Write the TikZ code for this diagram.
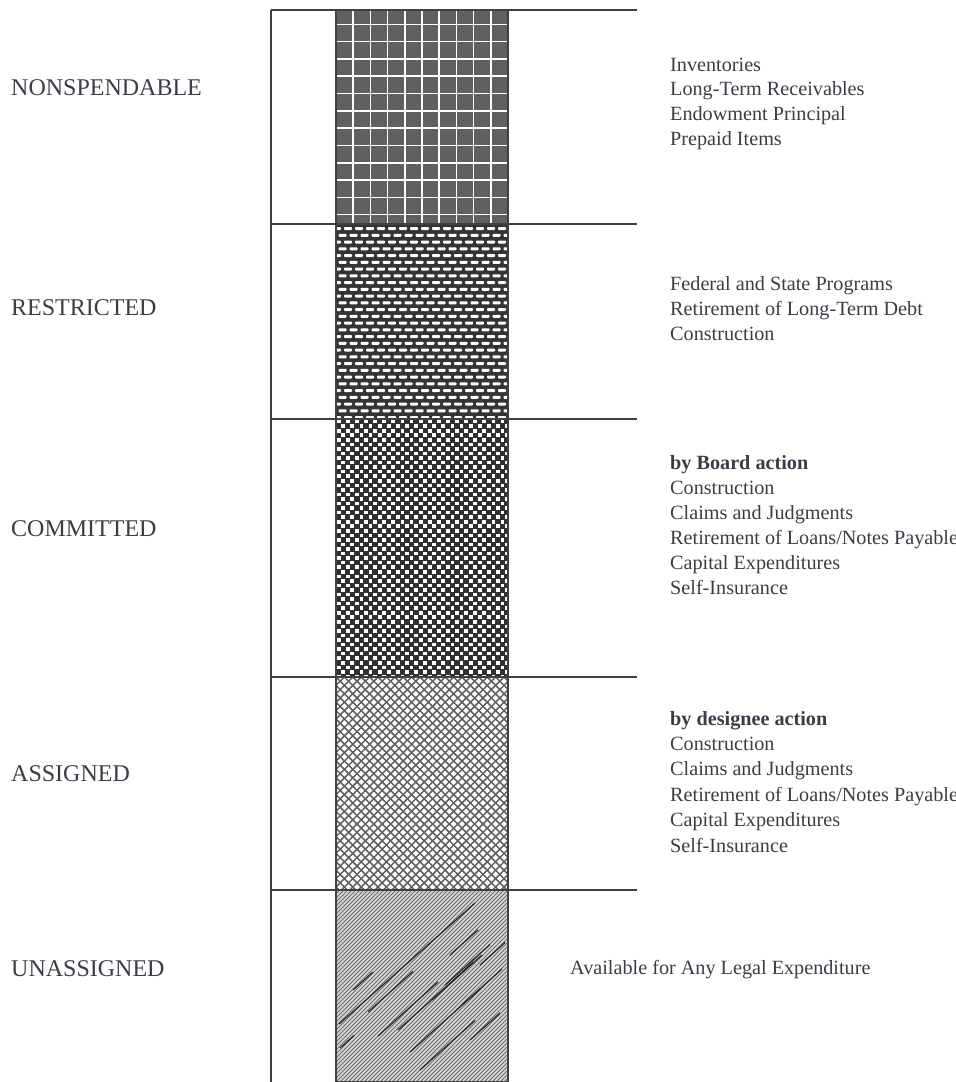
\documentclass[tikz,border=0pt]{standalone}
\usepackage{fontspec}
\setmainfont{Liberation Serif}
\definecolor{inkgray}{RGB}{60,60,72}
\definecolor{gridfill}{RGB}{96,96,96}
\definecolor{brickfill}{RGB}{52,52,52}
\definecolor{checkfill}{RGB}{48,48,48}
\definecolor{hatchline}{RGB}{95,95,95}
\definecolor{stripefill}{RGB}{215,215,215}
\definecolor{stripeline}{RGB}{110,110,110}

\begin{document}
\begin{tikzpicture}[x=1pt,y=-1pt,
		rule line/.style={draw=black!75,line width=1.1pt},
		class label/.style={anchor=base west,inner sep=0,text=inkgray,font=\fontsize{24}{28}\selectfont},
		item label/.style={anchor=base west,inner sep=0,text=inkgray,font=\fontsize{20.2}{25}\selectfont},
		head label/.style={item label,font=\fontsize{20.2}{25}\selectfont\bfseries}
		]
		\useasboundingbox (0,0) rectangle (956,1082);
		
		\def \xl {336};
		\def \xr {508};
		\def \xt {670};
		
		% nonspendable: grey with white grid
		\begin{scope}
			\clip (\xl,10) rectangle (\xr,224);
			\fill[gridfill] (\xl,10) rectangle (\xr,224);
			\foreach \k in {1,...,12} {
				\draw[white,line width=1.6pt] ({\xl+17.2*\k},10) -- ++(0,214);
				\draw[white,line width=1.6pt] (\xl,{7+17.3*\k}) -- ++(172,0);
			}
		\end{scope}
		
		% restricted: bricks
		\begin{scope}
			\clip (\xl,224) rectangle (\xr,419);
			\fill[brickfill] (\xl,224) rectangle (\xr,419);
			\foreach \r in {0,...,29} {
				\pgfmathsetmacro\sh{mod(\r,2)*5.5}
				\foreach \c in {0,...,16}
					\fill[white,rounded corners=0.8pt] ({\xl+\sh+11*\c-3},{227+6.75*\r}) rectangle ++(8,3);
			}
		\end{scope}
		
		% committed: checker
		\begin{scope}
			\clip (\xl,419) rectangle (\xr,677);
			\fill[checkfill] (\xl,419) rectangle (\xr,677);
			\foreach \r in {0,...,57} {
				\pgfmathsetmacro\sh{mod(\r,2)*4.55}
				\foreach \c in {0,...,19}
					\fill[white] ({\xl+\sh+9.1*\c+0.8},{419.8+4.55*\r}) rectangle ++(3.8,3.6);
			}
		\end{scope}
		
		% assigned: cross hatch
		\begin{scope}
			\clip (\xl,677) rectangle (\xr,890);
			\foreach \k in {-26,...,46} {
				\draw[hatchline,line width=1.5pt] ({\xl+8.4*\k},677) -- ++(215,215);
				\draw[hatchline,line width=1.5pt] ({\xl+8.4*\k},677) -- ++(-215,215);
			}
		\end{scope}
		
		% unassigned: fine stripes
		\begin{scope}
			\clip (\xl,890) rectangle (\xr,1082);
			\fill[stripefill] (\xl,890) rectangle (\xr,1082);
			\foreach \k in {-48,...,43}
				\draw[stripeline,line width=1pt] ({\xl+4*\k},1082) -- ++(195,-195);
			\draw[black!85,line width=1.2pt] (339,1024) -- (475,903);
			\foreach \a/\b/\l in {353/990/20,340/1048/14,368/1012/45,378/1036/60,398/1030/75,410/1052/70,420/1070/55,432/1000/50,445/985/45,450/955/28,462/1005/40,470/1040/30,480/965/25}
				\draw[black!85,line width=1.2pt] (\a,\b) -- ++(\l,{-0.9*\l});
		\end{scope}
		
		% frame
		\draw[rule line] (\xl,10) rectangle (\xr,1082);
		\draw[rule line] (271,10) -- (271,1082);
		\foreach \y in {10,224,419,677,890}
			\draw[rule line] (271,\y) -- (637,\y);
		
		% class names
		\node[class label] (nonspend) at (11,95) {NONSPENDABLE};
		\node[class label] (restrict) at (11,315) {RESTRICTED};
		\node[class label] (commit) at (11,536) {COMMITTED};
		\node[class label] (assign) at (11,781) {ASSIGNED};
		\node[class label] (unassign) at (11,976) {UNASSIGNED};
		
		% examples
		\foreach \t [count=\i from 0] in {Inventories,Long-Term Receivables,Endowment Principal,Prepaid Items}
			\node[item label] (ns-\i) at (\xt,{71+24.8*\i}) {\t};
		\foreach \t [count=\i from 0] in {Federal and State Programs,Retirement of Long-Term Debt,Construction}
			\node[item label] (rs-\i) at (\xt,{290+25.2*\i}) {\t};
		\node[head label] (cm-0) at (\xt,469) {by Board action};
		\foreach \t [count=\i from 1] in {Construction,Claims and Judgments,Retirement of Loans/Notes Payable,Capital Expenditures,Self-Insurance}
			\node[item label] (cm-\i) at (\xt,{469+25*\i}) {\t};
		\node[head label] (as-0) at (\xt,725) {by designee action};
		\foreach \t [count=\i from 1] in {Construction,Claims and Judgments,Retirement of Loans/Notes Payable,Capital Expenditures,Self-Insurance}
			\node[item label] (as-\i) at (\xt,{725+25.4*\i}) {\t};
		\node[item label] (un-0) at (570,974) {Available for Any Legal Expenditure};
		
\end{tikzpicture}
\end{document}
